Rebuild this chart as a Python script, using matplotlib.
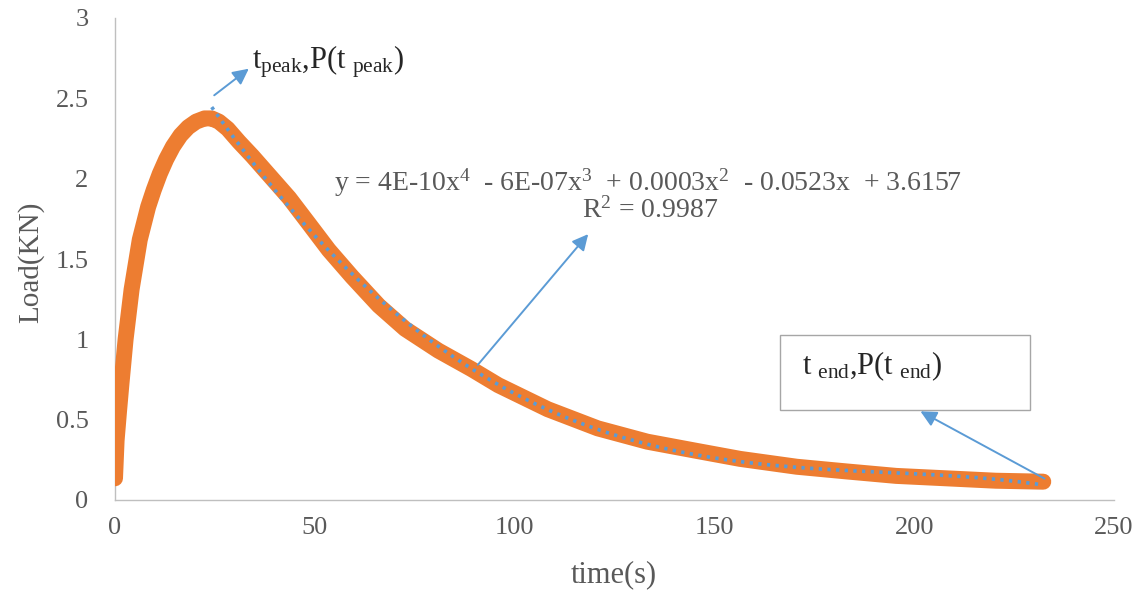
import numpy as np
import matplotlib
matplotlib.use("Agg")
import matplotlib.pyplot as plt
from matplotlib.patches import Rectangle, FancyArrowPatch

# Measured load history of the test (time in s, load in kN)
time_s = [0, 0.4, 1.0, 1.6, 2.65, 4.15, 6.2, 8.3, 9.7, 11.2, 12.8, 14.5, 16.4,
          18.3, 20.3, 22.4, 24.2, 26, 28.2, 31, 34.4, 39, 43.6, 48.5, 53.5,
          59.3, 66, 72.6, 80.9, 89.2, 95.9, 108.3, 120.8, 133.2, 145.7, 156.4,
          170.6, 183, 195.5, 208, 220.4, 232.3]
load_kn = [0.135, 0.37, 0.55, 0.72, 1.0, 1.31, 1.62, 1.825, 1.93, 2.03, 2.12, 2.2, 2.27,
           2.32, 2.355, 2.375, 2.375, 2.355, 2.31, 2.23, 2.14, 2.01, 1.88, 1.72, 1.556,
           1.39, 1.21, 1.065, 0.93, 0.815, 0.715, 0.565, 0.446, 0.363, 0.305, 0.256,
           0.207, 0.178, 0.15, 0.135, 0.12, 0.114]

# Start of the post-peak branch used for the polynomial trend line
trend_start = 24.0
trend_degree = 4

x_ticks = [0, 50, 100, 150, 200, 250]
y_ticks = [0, 0.5, 1, 1.5, 2, 2.5, 3]
y_tick_labels = ["0", "0.5", "1", "1.5", "2", "2.5", "3"]

equation_text = r"y = 4E-10x$^4$  - 6E-07x$^3$  + 0.0003x$^2$  - 0.0523x  + 3.6157"
r2_text = r"R$^2$ = 0.9987"
peak_text = r"$t_{peak}{,}P(t_{\ peak})$"
end_text = r"$t_{\ end}{,}P(t_{\ end})$"

plt.rcParams["font.family"] = ["Liberation Serif", "DejaVu Serif"]
plt.rcParams["mathtext.default"] = "regular"

W, H = 1134, 602
fig = plt.figure(figsize=(W / 100, H / 100), dpi=100)
fig.patch.set_facecolor("white")


def px(x, y):
    """Figure-fraction coordinates from pixel position (origin top-left)."""
    return x / W, 1 - y / H


ax = fig.add_axes([115 / W, 1 - 500 / H, (1114 - 115) / W, (500 - 18) / H])
ax.set_xlim(0, 250)
ax.set_ylim(0, 3)

orange = "#ED7D31"
blue = "#5B9BD5"
gray = "#595959"

t = np.array(time_s)
p = np.array(load_kn)
ax.plot(t, p, color=orange, lw=11.5, solid_capstyle="round",
        solid_joinstyle="round", zorder=3)

# Polynomial trend line over the decaying branch
mask = t >= trend_start
coef = np.polyfit(t[mask], p[mask], trend_degree)
tt = np.linspace(t[mask][0], t[-1], 400)
ax.plot(tt, np.polyval(coef, tt), color=blue, lw=2.6,
        linestyle=(0, (0.9, 1.5)), zorder=4)

for side in ["top", "right"]:
    ax.spines[side].set_visible(False)
for side in ["left", "bottom"]:
    ax.spines[side].set_color("#BFBFBF")
    ax.spines[side].set_linewidth(1.0)

ax.set_xticks(x_ticks)
ax.set_yticks(y_ticks)
ax.set_yticklabels(y_tick_labels)
ax.tick_params(axis="both", length=0, labelsize=19, labelcolor=gray)
ax.tick_params(axis="y", pad=19)
ax.tick_params(axis="x", pad=12)

fig.text(*px(614, 575), "time(s)", fontsize=22, color=gray,
         ha="center", va="center")
fig.text(*px(31, 262), "Load(KN)", fontsize=21, color=gray,
         ha="center", va="center", rotation=90)

# Trend line equation
fig.text(*px(648, 183), equation_text, fontsize=20, color=gray,
         ha="center", va="center")
fig.text(*px(650, 210), r2_text, fontsize=20, color=gray,
         ha="center", va="center")

# Callout arrows
arrow_kw = dict(arrowstyle="-|>,head_length=0.8,head_width=0.4",
                color=blue, lw=1.4, transform=fig.transFigure, zorder=6)
for (x0, y0), (x1, y1) in [((212, 97), (251, 67)),
                           ((476, 367), (590, 232)),
                           ((1047, 480), (918, 410))]:
    fig.patches.append(FancyArrowPatch(px(x0, y0), px(x1, y1),
                                       mutation_scale=12, **arrow_kw))

fig.text(*px(252, 62), peak_text, fontsize=22, color="#262626",
         ha="left", va="center")

box = Rectangle(px(780, 410), 250 / W, 75 / H, transform=fig.transFigure,
                facecolor="white", edgecolor="#A6A6A6", lw=1.0, zorder=5)
fig.patches.append(box)
fig.text(*px(802, 366), end_text, fontsize=22, color="#262626",
         ha="left", va="center", zorder=7)

fig.savefig("out.png", dpi=100)
